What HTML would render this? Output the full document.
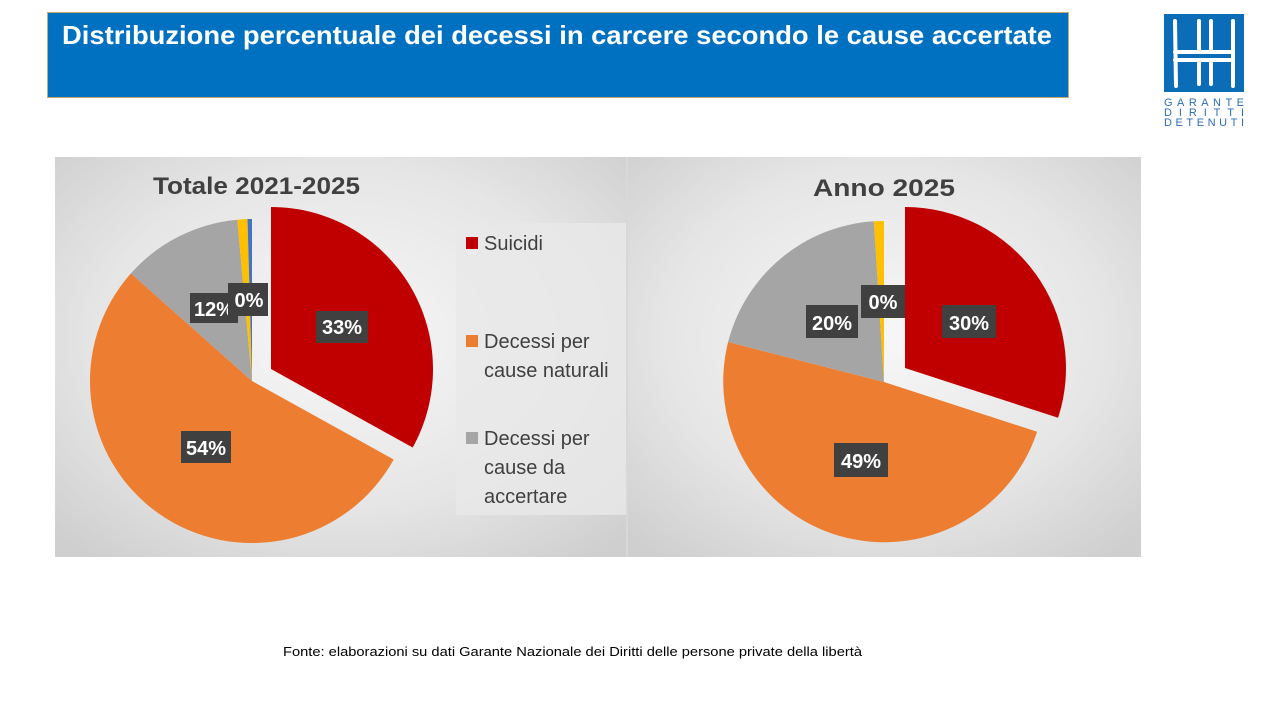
<!DOCTYPE html>
<html><head><meta charset="utf-8"><style>
body{margin:0;width:1280px;height:720px;background:#fff;overflow:hidden;font-family:"Liberation Sans","DejaVu Sans",sans-serif}
</style></head><body>
<svg width="1280" height="720" viewBox="0 0 1280 720" xmlns="http://www.w3.org/2000/svg" style="position:absolute;left:0;top:0">
<defs>
<radialGradient id="bg1" cx="0.5" cy="0.45" r="0.7">
<stop offset="0" stop-color="#f7f7f7"/><stop offset="0.6" stop-color="#e6e6e6"/><stop offset="1" stop-color="#cfcfcf"/>
</radialGradient>
<radialGradient id="bg2" cx="0.5" cy="0.45" r="0.7">
<stop offset="0" stop-color="#f7f7f7"/><stop offset="0.6" stop-color="#e6e6e6"/><stop offset="1" stop-color="#cfcfcf"/>
</radialGradient>
</defs>
<rect x="47.5" y="12.5" width="1021" height="85" fill="#0070C0" stroke="#c9a86a" stroke-width="1"/>
<text x="62" y="44" fill="#fff" font-size="26" font-weight="bold" textLength="990" lengthAdjust="spacingAndGlyphs">Distribuzione percentuale dei decessi in carcere secondo le cause accertate</text>
<rect x="1164" y="14" width="80" height="78" fill="#0b6db8"/>
<g stroke="#fff" stroke-width="4" fill="none" stroke-linecap="round">
<path d="M1175 21 L1176 86"/><path d="M1233 21 L1233 86"/>
<path d="M1199 21 L1199 52"/><path d="M1211 21 L1211 52"/>
<path d="M1175 52 L1233 52"/><path d="M1175 60 L1233 60"/>
<path d="M1199 60 L1199 84"/><path d="M1211 60 L1211 84"/>
</g>
<g fill="#2a6db5" font-size="11">
<text x="1164" y="106" textLength="80" lengthAdjust="spacing">GARANTE</text>
<text x="1164" y="116" textLength="80" lengthAdjust="spacing">DIRITTI</text>
<text x="1164" y="126" textLength="80" lengthAdjust="spacing">DETENUTI</text>
</g>
<rect x="55" y="157" width="572" height="400" fill="url(#bg1)"/>
<rect x="627" y="157" width="514" height="400" fill="url(#bg2)"/>
<rect x="626" y="157" width="2" height="400" fill="#d8d8d8"/>
<rect x="456" y="223" width="170" height="292" fill="#e9e9e9" opacity="0.8"/>
<text x="153" y="194" font-size="24" font-weight="bold" fill="#404040" textLength="207" lengthAdjust="spacingAndGlyphs">Totale 2021-2025</text>
<text x="813" y="196" font-size="24" font-weight="bold" fill="#404040" textLength="142" lengthAdjust="spacingAndGlyphs">Anno 2025</text>
<path d="M271 369 L271 207 A162 162 0 0 1 412.7 447.5 Z" fill="#C00000"/>
<path d="M252 381 L393.7 459.5 A162 162 0 1 1 130.9 273.4 Z" fill="#ED7D31"/>
<path d="M252 381 L130.9 273.4 A162 162 0 0 1 237.3 219.7 Z" fill="#A5A5A5"/>
<path d="M252 381 L237.3 219.7 A162 162 0 0 1 247.5 219 Z" fill="#FFC000"/>
<path d="M252 381 L247.5 219 A162 162 0 0 1 252 219 Z" fill="#4472C4"/>
<path d="M905 368 L905 207 A161 161 0 0 1 1058.1 417.8 Z" fill="#C00000"/>
<path d="M884 382 L1037.1 431.8 A161 161 0 0 1 728.1 342 Z" fill="#ED7D31"/>
<path d="M884 382 L728.1 342 A161 161 0 0 1 873.9 221.3 Z" fill="#A5A5A5"/>
<path d="M884 382 L873.9 221.3 A161 161 0 0 1 884 221 Z" fill="#FFC000"/>
<g font-size="20" font-weight="bold" fill="#fff" text-anchor="middle">
<rect x="316" y="311" width="52" height="32" fill="#404040"/><text x="342" y="334">33%</text>
<rect x="190" y="293" width="48" height="30" fill="#404040"/><text x="214" y="316">12%</text>
<rect x="228" y="283" width="40" height="33" fill="#404040"/><text x="249" y="307">0%</text>
<rect x="181" y="431" width="50" height="32" fill="#404040"/><text x="206" y="455">54%</text>
<rect x="806" y="305" width="52" height="33" fill="#404040"/><text x="832" y="330">20%</text>
<rect x="861" y="285" width="44" height="33" fill="#404040"/><text x="883" y="309">0%</text>
<rect x="942" y="305" width="54" height="33" fill="#404040"/><text x="969" y="330">30%</text>
<rect x="834" y="443" width="54" height="34" fill="#404040"/><text x="861" y="468">49%</text>
</g>
<g font-size="20" fill="#404040">
<rect x="466" y="237" width="12" height="12" fill="#C00000"/><text x="484" y="250">Suicidi</text>
<rect x="466" y="335" width="12" height="12" fill="#ED7D31"/><text x="484" y="348">Decessi per</text><text x="484" y="377">cause naturali</text>
<rect x="466" y="432" width="12" height="12" fill="#A5A5A5"/><text x="484" y="445">Decessi per</text><text x="484" y="474">cause da</text><text x="484" y="503">accertare</text>
</g>
<text x="283" y="656" font-size="12.5" fill="#000" textLength="579" lengthAdjust="spacingAndGlyphs">Fonte: elaborazioni su dati Garante Nazionale dei Diritti delle persone private della libertà</text>
</svg>
</body></html>
